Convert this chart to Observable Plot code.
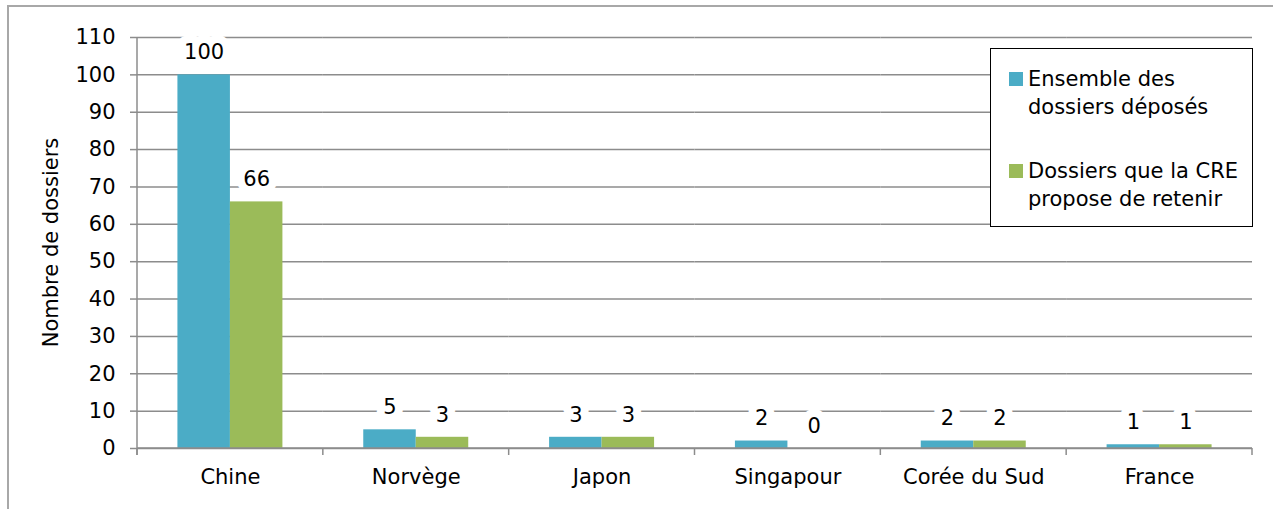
<!DOCTYPE html>
<html><head><meta charset="utf-8">
<script src="https://cdn.jsdelivr.net/npm/d3@7"></script>
<script src="https://cdn.jsdelivr.net/npm/@observablehq/plot@0.6"></script>
<style>
body{margin:0;background:#fff;}
#wrap{position:relative;width:1273px;height:509px;overflow:hidden;font-family:"DejaVu Sans",sans-serif;background:#fff;}
#wrap svg{position:absolute;left:0;top:0;}
#frame{position:absolute;left:7px;top:5px;width:1290px;height:530px;border-top:2px solid #a8a8a8;border-left:2px solid #a8a8a8;}
#legend{position:absolute;left:990px;top:48px;width:263px;height:179px;box-sizing:border-box;border:1.6px solid #000;background:#fff;}
.item{position:absolute;left:18px;display:flex;align-items:flex-start;font-size:21px;line-height:28px;color:#000;}
.sw{width:14px;height:14px;margin-top:7px;margin-right:5px;flex:none;}
</style>
</head><body>
<div id="wrap"><div id="frame"></div></div>
<script>
const countries = ["Chine", "Norvège", "Japon", "Singapour", "Corée du Sud", "France"];
const seriesNames = ["Ensemble des dossiers déposés", "Dossiers que la CRE propose de retenir"];
const legendLines = [["Ensemble des", "dossiers déposés"], ["Dossiers que la CRE", "propose de retenir"]];
const colors = ["#4BACC6", "#9BBB59"];
const deposes = [100, 5, 3, 2, 2, 1];
const retenus = [66, 3, 3, 0, 2, 1];
const yTicks = [0, 10, 20, 30, 40, 50, 60, 70, 80, 90, 100, 110];
const yTitle = "Nombre de dossiers";

const data = [];
countries.forEach((c, i) => {
  data.push({country: c, series: seriesNames[0], value: deposes[i]});
  data.push({country: c, series: seriesNames[1], value: retenus[i]});
});

const gridColor = "#8c8c8c";

const chart = Plot.plot({
  width: 1273, height: 509,
  marginLeft: 137, marginRight: 21, marginTop: 37, marginBottom: 61,
  style: {fontFamily: "DejaVu Sans, sans-serif", fontSize: "21px", color: "#000", background: "transparent", overflow: "visible"},
  fx: {domain: countries, paddingInner: 0, paddingOuter: 0, round: false, label: null},
  x: {domain: seriesNames, paddingInner: 0, paddingOuter: 0.77, round: false, axis: null},
  y: {domain: [0, 110], label: null},
  color: {domain: seriesNames, range: colors},
  marks: [
    Plot.gridY(yTicks, {stroke: gridColor, strokeOpacity: 1, strokeWidth: 1.5}),
    Plot.barY(data, {fx: "country", x: "series", y: "value", fill: "series"}),
    Plot.text(data, {fx: "country", x: "series", y: "value", text: d => String(d.value), dy: -22.5,
      fill: "#000", stroke: "white", strokeWidth: 16, strokeLinejoin: "round", fontSize: 21}),
    Plot.axisY(yTicks, {tickSize: 7, tickPadding: 15, stroke: gridColor, strokeWidth: 1.5, fontSize: 21, label: null}),
    Plot.axisFx({anchor: "bottom", tickSize: 0, tickPadding: 21, fontSize: 21, label: null})
  ]
});

document.getElementById("wrap").appendChild(chart);

// axis lines and category boundary ticks from the plot's own scales
const fx = chart.scale("fx"), y = chart.scale("y");
const svg = d3.select(chart);
const g = svg.append("g").attr("stroke", gridColor).attr("stroke-width", 1.5);
const x0 = fx.range[0];
const y0 = y.apply(0);
g.append("line").attr("x1", x0).attr("x2", x0).attr("y1", y.apply(110)).attr("y2", y0 + 7);
const bounds = countries.map(c => fx.apply(c)).concat([fx.apply(countries[countries.length - 1]) + fx.bandwidth]);
bounds.forEach(b => g.append("line").attr("x1", b).attr("x2", b).attr("y1", y0).attr("y2", y0 + 7));
g.append("line").attr("x1", x0).attr("x2", bounds[bounds.length - 1]).attr("y1", y0).attr("y2", y0);

// y axis title
svg.append("text")
  .attr("transform", `translate(52,${(y.apply(110) + y0) / 2 + 0}) rotate(-90)`)
  .attr("text-anchor", "middle").attr("dominant-baseline", "middle")
  .attr("font-family", "DejaVu Sans, sans-serif").attr("font-size", 21).attr("fill", "#000")
  .text(yTitle);

// legend
const legend = d3.select("#wrap").append("div").attr("id", "legend");
const tops = [16, 108];
seriesNames.forEach((s, i) => {
  const it = legend.append("div").attr("class", "item").style("top", tops[i] + "px");
  it.append("div").attr("class", "sw").style("background", colors[i]);
  it.append("div").html(legendLines[i].join("<br>"));
});
</script>
</body></html>
